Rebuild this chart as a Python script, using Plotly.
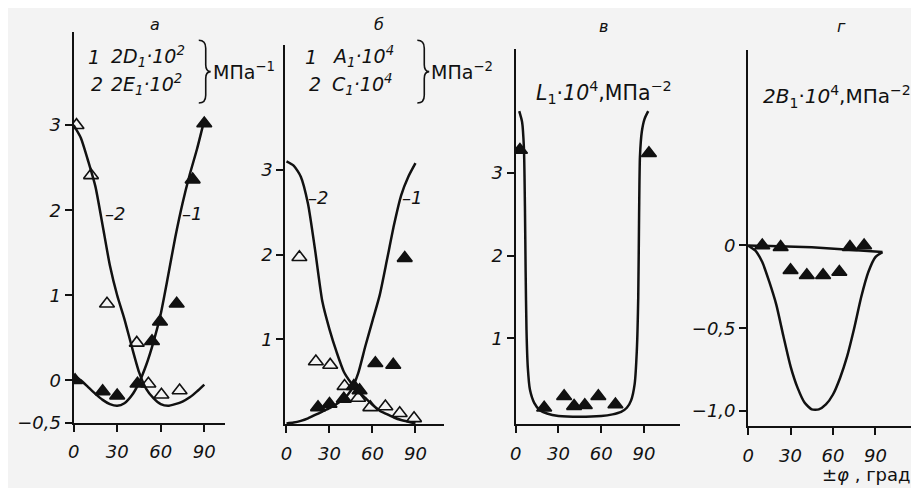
import plotly.graph_objects as go

# The page body shifts the figure to the right in the window, so the
# figure is made narrower and window x-positions are converted.
PAGE_W, PAGE_H, OFF_X = 919, 488, 10
W, H = PAGE_W - OFF_X, PAGE_H

# ---------------- data ----------------
phi_grid = [0, 5, 10, 15, 20, 25, 30, 35, 40, 45, 50, 55, 60, 65, 70, 75, 80, 85, 90]

# panel а : 2D1*10^2 (1), 2E1*10^2 (2), MPa^-1
a_D1_curve = [0.06, 0.0, -0.08, -0.16, -0.23, -0.28, -0.30, -0.27, -0.18, -0.03, 0.18, 0.45, 0.78,
              1.22, 1.68, 2.08, 2.42, 2.72, 3.06]
a_E1_curve = [3.0, 2.85, 2.58, 2.28, 1.82, 1.35, 1.0, 0.72, 0.40, 0.10, -0.10, -0.21, -0.28,
              -0.30, -0.28, -0.25, -0.20, -0.13, -0.05]
a_D1_phi = [1, 20, 30, 44, 54, 59.5, 71, 82, 90]
a_D1_val = [0.0, -0.13, -0.18, -0.04, 0.46, 0.69, 0.90, 2.36, 3.02]
a_E1_phi = [2, 12, 23, 43.5, 51.5, 60.5, 73]
a_E1_val = [3.0, 2.41, 0.90, 0.44, -0.04, -0.17, -0.12]

# panel б : A1*10^4 (1), C1*10^4 (2), MPa^-2
b_A1_curve = [0.01, 0.02, 0.04, 0.07, 0.11, 0.15, 0.19, 0.24, 0.30, 0.40, 0.60, 0.92, 1.22,
              1.52, 1.93, 2.35, 2.70, 2.92, 3.08]
b_C1_curve = [3.1, 3.05, 2.92, 2.6, 2.05, 1.45, 1.12, 0.85, 0.62, 0.49, 0.39, 0.31, 0.23,
              0.16, 0.12, 0.08, 0.05, 0.03, 0.01]
b_A1_phi = [22, 30, 40, 47, 51, 62, 74.5, 82.5]
b_A1_val = [0.20, 0.24, 0.30, 0.45, 0.40, 0.72, 0.70, 1.96]
b_C1_phi = [9, 20.5, 30.5, 40.5, 50, 58.5, 69, 79, 89]
b_C1_val = [1.97, 0.74, 0.70, 0.45, 0.31, 0.20, 0.21, 0.13, 0.07]

# panel в : L1*10^4, MPa^-2
c_curve_phi = [2.5, 4.5, 5.8, 6.5, 7.0, 7.6, 8.5, 10, 13, 17, 22, 30, 45, 60, 68, 74, 78, 81,
               83.5, 85, 86, 86.6, 87.2, 88.5, 90.5, 93]
c_curve_val = [3.75, 3.62, 3.3, 2.6, 1.8, 1.1, 0.65, 0.38, 0.22, 0.13, 0.09, 0.06, 0.05, 0.06,
               0.08, 0.11, 0.16, 0.25, 0.45, 0.85, 1.5, 2.5, 3.2, 3.5, 3.66, 3.75]
c_L1_phi = [3, 20, 34, 41, 48.5, 58, 70, 93.5]
c_L1_val = [3.28, 0.16, 0.30, 0.18, 0.19, 0.30, 0.20, 3.24]

# panel г : 2B1*10^4, MPa^-2
d_flat_phi = [0, 45, 95]
d_flat_val = [0.0, -0.01, -0.04]
d_U_phi = phi_grid + [95]
d_U_val = [0.0, -0.03, -0.10, -0.22, -0.36, -0.55, -0.73, -0.86, -0.95, -0.99, -0.99, -0.96,
           -0.90, -0.80, -0.67, -0.50, -0.31, -0.16, -0.07, -0.04]
d_B1_phi = [10, 23, 30, 41.5, 53, 64.5, 72, 82]
d_B1_val = [0.0, -0.01, -0.15, -0.18, -0.18, -0.16, -0.01, 0.0]

x_tick_vals = [0, 30, 60, 90]
x_tick_text = ["0", "30", "60", "90"]
a_y_vals = [-0.5, 0, 1, 2, 3]
a_y_text = ["−0,5", "0", "1", "2", "3"]
bc_y_vals = [1, 2, 3]
bc_y_text = ["1", "2", "3"]
d_y_vals = [-1.0, -0.5, 0]
d_y_text = ["−1,0", "−0,5", "0"]

# ---------------- figure ----------------
BG = "#f3f3f3"
INK = "#111111"
FONT = "DejaVu Sans"
tick_font = dict(family=FONT, size=18, color=INK, style="italic")


def px(x):  # window pixel -> paper x
    return (x - OFF_X) / W


def py(y):  # window pixel -> paper y
    return 1 - y / H


fig = go.Figure()


def curve(xs, ys, n, shape="spline"):
    fig.add_trace(go.Scatter(x=xs, y=ys, mode="lines", xaxis="x" + n, yaxis="y" + n,
                             line=dict(color=INK, width=2.5, shape=shape, smoothing=0.6),
                             showlegend=False, hoverinfo="skip"))


def pts(xs, ys, n, filled):
    fig.add_trace(go.Scatter(x=xs, y=ys, mode="markers", xaxis="x" + n, yaxis="y" + n,
                             marker=dict(symbol="triangle-up" if filled else "triangle-up-open",
                                         size=13, color=INK,
                                         line=dict(color=INK, width=1.6)),
                             showlegend=False, hoverinfo="skip"))


curve(phi_grid, a_D1_curve, "")
curve(phi_grid, a_E1_curve, "")
pts(a_E1_phi, a_E1_val, "", False)
pts(a_D1_phi, a_D1_val, "", True)

curve(phi_grid, b_A1_curve, "2")
curve(phi_grid, b_C1_curve, "2")
pts(b_C1_phi, b_C1_val, "2", False)
pts(b_A1_phi, b_A1_val, "2", True)

curve(c_curve_phi, c_curve_val, "3")
pts(c_L1_phi, c_L1_val, "3", True)

curve(d_flat_phi, d_flat_val, "4", shape="linear")
curve(d_U_phi, d_U_val, "4")
pts(d_B1_phi, d_B1_val, "4", True)


def xax(x0, x1, rng, anchor):
    return dict(domain=[px(x0), min(1.0, px(x1))], range=rng, anchor=anchor,
                showline=True, linecolor=INK, linewidth=2, ticks="outside", ticklen=7,
                tickwidth=2, tickcolor=INK, tickvals=x_tick_vals, ticktext=x_tick_text,
                tickfont=tick_font, ticklabelstandoff=5, showgrid=False, zeroline=False,
                fixedrange=True)


def yax(y_top, y_bot, rng, anchor, vals, text):
    return dict(domain=[py(y_bot), py(y_top)], range=rng, anchor=anchor,
                showline=True, linecolor=INK, linewidth=2, ticks="outside", ticklen=7,
                tickwidth=2, tickcolor=INK, tickvals=vals, ticktext=text,
                tickfont=tick_font, showgrid=False, zeroline=False, fixedrange=True)


annotations = []


def text(x, y, s, size=19, italic=True, xanchor="left", xref="paper", yref="paper"):
    annotations.append(dict(x=x, y=y, xref=xref, yref=yref, text=s, showarrow=False,
                            xanchor=xanchor, yanchor="middle",
                            font=dict(family=FONT, size=size, color=INK,
                                      style="italic" if italic else "normal")))


# panel titles
text(px(152), py(17), "а", size=16, xanchor="center")
text(px(377), py(17), "б", size=16, xanchor="center")
text(px(603), py(19), "в", size=16, xanchor="center")
text(px(843), py(19), "г", size=16, xanchor="center")

# legend panel а
text(px(82), py(50), "1")
text(px(106), py(50), "2<i>D</i><sub>1</sub>·10<sup>2</sup>")
text(px(86), py(78), "2")
text(px(106), py(78), "2<i>E</i><sub>1</sub>·10<sup>2</sup>")
text(px(208), py(64), "МПа<sup>−1</sup>", italic=False)

# legend panel б
text(px(301), py(50), "1")
text(px(328), py(50), "<i>A</i><sub>1</sub>·10<sup>4</sup>")
text(px(305), py(78), "2")
text(px(328), py(78), "<i>C</i><sub>1</sub>·10<sup>4</sup>")
text(px(428), py(64), "МПа<sup>−2</sup>", italic=False)

# panel labels в, г
text(px(533), py(86), "<i>L</i><sub>1</sub>·<i>10</i><sup>4</sup>,МПа<sup>−2</sup>",
     size=20.5, italic=False)
text(px(762), py(90), "<i>2B</i><sub>1</sub>·<i>10</i><sup>4</sup>,МПа<sup>−2</sup>",
     size=20, italic=False)
text(px(868), py(476), "±<i>φ</i> , град", size=18, xanchor="center", italic=False)

# curve numbers
text(20, 1.96, "–2", size=18, xref="x", yref="y")
text(73.5, 1.96, "–1", size=18, xref="x", yref="y")
text(13.5, 2.68, "–2", size=18, xref="x2", yref="y2")
text(79, 2.68, "–1", size=18, xref="x2", yref="y2")


def brace(x0, yt, yb, w=7, tip=5):
    ym = (yt + yb) / 2
    xs = x0 + w
    pts_ = [("M", x0, yt), ("Q", xs, yt, xs, yt + 8), ("L", xs, ym - 7),
            ("Q", xs, ym, xs + tip, ym), ("Q", xs, ym, xs, ym + 7), ("L", xs, yb - 8),
            ("Q", xs, yb, x0, yb)]
    s = ""
    for p in pts_:
        cmd = p[0]
        coords = p[1:]
        s += cmd + " " + " ".join(
            f"{px(coords[i]):.5f},{py(coords[i + 1]):.5f}" for i in range(0, len(coords), 2)) + " "
    return dict(type="path", path=s, xref="paper", yref="paper",
                line=dict(color=INK, width=1.6))


shapes = [brace(196, 33, 97), brace(416, 33, 97)]

fig.update_layout(
    width=W, height=H, margin=dict(l=0, r=0, t=0, b=0),
    paper_bgcolor=BG, plot_bgcolor=BG, showlegend=False,
    xaxis=xax(70, 222, [0, 104], "y"),
    yaxis=yax(25, 423.5, [-0.5, 4.09], "x", a_y_vals, a_y_text),
    xaxis2=xax(283, 443, [-0.9, 110], "y2"),
    yaxis2=yax(38, 425, [0, 4.47], "x2", bc_y_vals, bc_y_text),
    xaxis3=xax(515, 680, [0, 115], "y3"),
    yaxis3=yax(42, 425, [-0.04, 4.5], "x3", bc_y_vals, bc_y_text),
    xaxis4=xax(749, 917, [0, 118], "y4"),
    yaxis4=yax(43, 426.7, [-1.09, 1.18], "x4", d_y_vals, d_y_text),
    annotations=annotations, shapes=shapes,
)

fig.write_html("out.html")
